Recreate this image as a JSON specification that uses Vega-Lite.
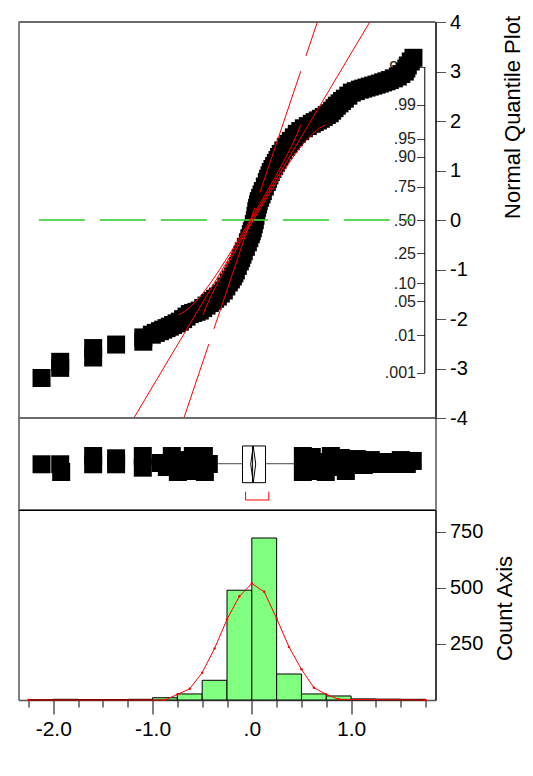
{
  "$schema": "https://vega.github.io/schema/vega-lite/v6.json",
  "background": "white",
  "padding": {"left": 16.5, "top": 11, "right": 0, "bottom": 0},
  "autosize": {"type": "pad"},
  "bounds": "flush",
  "spacing": 0,
  "config": {
    "font": "Liberation Sans",
    "view": {"stroke": "black", "strokeWidth": 1},
    "axis": {"labelFont": "Liberation Sans", "titleFont": "Liberation Sans", "labelColor": "black", "titleColor": "black", "titleFontWeight": "normal", "domainColor": "black", "tickColor": "#555", "grid": false}
  },
  "datasets": {
    "qq": [
      {"x":-2.118,"z":-3.192},{"x":-1.93,"z":-2.987},{"x":-1.93,"z":-2.865},{"x":-1.598,"z":-2.778},{"x":-1.598,"z":-2.587},{"x":-1.367,"z":-2.516},{"x":-1.093,"z":-2.459},{"x":-1.093,"z":-2.372},
      {"x":-1.007,"z":-2.317},{"x":-0.967,"z":-2.281},{"x":-0.926,"z":-2.246},{"x":-0.893,"z":-2.216},{"x":-0.859,"z":-2.185},{"x":-0.826,"z":-2.155},{"x":-0.793,"z":-2.121},{"x":-0.758,"z":-2.088},{"x":-0.725,"z":-2.054},{"x":-0.692,"z":-2.003},{"x":-0.658,"z":-1.952},{"x":-0.624,"z":-1.901},{"x":-0.591,"z":-1.877},{"x":-0.557,"z":-1.855},{"x":-0.524,"z":-1.83},{"x":-0.49,"z":-1.78},{"x":-0.456,"z":-1.729},{"x":-0.423,"z":-1.678},{"x":-0.396,"z":-1.634},{"x":-0.37,"z":-1.591},{"x":-0.342,"z":-1.546},{"x":-0.312,"z":-1.485},{"x":-0.282,"z":-1.424},{"x":-0.257,"z":-1.343},{"x":-0.232,"z":-1.262},{"x":-0.211,"z":-1.201},{"x":-0.191,"z":-1.14},{"x":-0.176,"z":-1.08},{"x":-0.161,"z":-1.018},{"x":-0.141,"z":-0.927},{"x":-0.121,"z":-0.836},{"x":-0.108,"z":-0.769},{"x":-0.094,"z":-0.7},{"x":-0.081,"z":-0.633},{"x":-0.06,"z":-0.542},{"x":-0.04,"z":-0.451},{"x":-0.025,"z":-0.369},{"x":-0.01,"z":-0.288},{"x":0.0,"z":-0.227},{"x":0.01,"z":-0.166},{"x":0.02,"z":-0.085},{"x":0.03,"z":-0.004},{"x":0.037,"z":0.087},{"x":0.045,"z":0.179},{"x":0.053,"z":0.246},{"x":0.062,"z":0.315},{"x":0.07,"z":0.381},{"x":0.084,"z":0.448},{"x":0.098,"z":0.517},{"x":0.111,"z":0.584},{"x":0.131,"z":0.676},{"x":0.151,"z":0.767},{"x":0.164,"z":0.834},{"x":0.178,"z":0.903},{"x":0.191,"z":0.97},{"x":0.208,"z":1.031},{"x":0.225,"z":1.092},{"x":0.242,"z":1.153},{"x":0.259,"z":1.213},{"x":0.275,"z":1.274},{"x":0.292,"z":1.335},{"x":0.317,"z":1.406},{"x":0.342,"z":1.477},{"x":0.368,"z":1.538},{"x":0.393,"z":1.599},{"x":0.423,"z":1.67},{"x":0.453,"z":1.741},{"x":0.488,"z":1.796},{"x":0.524,"z":1.853},{"x":0.564,"z":1.897},{"x":0.604,"z":1.944},{"x":0.634,"z":1.978},{"x":0.665,"z":2.011},{"x":0.695,"z":2.045},{"x":0.725,"z":2.082},{"x":0.755,"z":2.121},{"x":0.785,"z":2.157},{"x":0.809,"z":2.208},{"x":0.833,"z":2.259},{"x":0.856,"z":2.309},{"x":0.883,"z":2.356},{"x":0.909,"z":2.405},{"x":0.937,"z":2.451},{"x":0.972,"z":2.512},{"x":1.007,"z":2.573},{"x":1.047,"z":2.603},{"x":1.088,"z":2.634},{"x":1.121,"z":2.654},{"x":1.155,"z":2.675},{"x":1.188,"z":2.695},{"x":1.222,"z":2.715},{"x":1.256,"z":2.735},{"x":1.289,"z":2.756},{"x":1.322,"z":2.78},{"x":1.356,"z":2.802},{"x":1.39,"z":2.827},{"x":1.43,"z":2.861},{"x":1.47,"z":2.898},{"x":1.506,"z":2.948},{"x":1.541,"z":2.999},{"x":1.556,"z":3.06},{"x":1.571,"z":3.121},{"x":1.601,"z":3.202},{"x":1.628,"z":3.277}
    ],
    "ci": [
      {"side":"R","x":-0.493,"z":-1.92},{"side":"R","x":-0.459,"z":-1.75},{"side":"R","x":-0.402,"z":-1.5},{"side":"R","x":-0.339,"z":-1.25},{"side":"R","x":-0.272,"z":-1.0},{"side":"R","x":-0.203,"z":-0.75},{"side":"R","x":-0.131,"z":-0.5},{"side":"R","x":-0.058,"z":-0.25},{"side":"R","x":0.016,"z":0},{"side":"R","x":0.091,"z":0.25},{"side":"R","x":0.167,"z":0.5},{"side":"R","x":0.244,"z":0.75},{"side":"R","x":0.324,"z":1.0},{"side":"R","x":0.408,"z":1.25},{"side":"R","x":0.501,"z":1.5},{"side":"R","x":0.543,"z":1.6},{"side":"R","x":0.616,"z":1.75},{"side":"R","x":0.678,"z":1.85},{"side":"R","x":0.739,"z":1.92},
      {"side":"L","x":-0.739,"z":-1.92},{"side":"L","x":-0.678,"z":-1.85},{"side":"L","x":-0.616,"z":-1.75},{"side":"L","x":-0.543,"z":-1.6},{"side":"L","x":-0.501,"z":-1.5},{"side":"L","x":-0.408,"z":-1.25},{"side":"L","x":-0.324,"z":-1.0},{"side":"L","x":-0.244,"z":-0.75},{"side":"L","x":-0.167,"z":-0.5},{"side":"L","x":-0.091,"z":-0.25},{"side":"L","x":-0.016,"z":0},{"side":"L","x":0.058,"z":0.25},{"side":"L","x":0.131,"z":0.5},{"side":"L","x":0.203,"z":0.75},{"side":"L","x":0.272,"z":1.0},{"side":"L","x":0.339,"z":1.25},{"side":"L","x":0.402,"z":1.5},{"side":"L","x":0.459,"z":1.75},{"side":"L","x":0.493,"z":1.92}
    ],
    "box": [
      {"x":-2.118,"y":0.497},{"x":-1.93,"y":0.497},{"x":-1.92,"y":0.413},{"x":-1.598,"y":0.587},{"x":-1.598,"y":0.497},{"x":-1.367,"y":0.562},{"x":-1.367,"y":0.497},{"x":-1.098,"y":0.587},{"x":-1.098,"y":0.46},
      {"x":-0.916,"y":0.511},{"x":-0.856,"y":0.467},{"x":-0.806,"y":0.587},{"x":-0.775,"y":0.5},{"x":-0.745,"y":0.413},{"x":-0.715,"y":0.457},{"x":-0.695,"y":0.543},{"x":-0.645,"y":0.424},{"x":-0.624,"y":0.5},{"x":-0.594,"y":0.587},{"x":-0.554,"y":0.446},{"x":-0.514,"y":0.554},{"x":-0.483,"y":0.587},{"x":-0.473,"y":0.413},{"x":-0.433,"y":0.5},
      {"x":0.514,"y":0.587},{"x":0.514,"y":0.413},{"x":0.544,"y":0.5},{"x":0.604,"y":0.576},{"x":0.645,"y":0.424},{"x":0.695,"y":0.522},{"x":0.745,"y":0.413},{"x":0.796,"y":0.587},{"x":0.846,"y":0.467},{"x":0.896,"y":0.565},{"x":0.947,"y":0.424},{"x":0.997,"y":0.511},{"x":1.057,"y":0.554},{"x":1.128,"y":0.489},{"x":1.198,"y":0.543},{"x":1.269,"y":0.5},{"x":1.349,"y":0.522},{"x":1.43,"y":0.5},{"x":1.5,"y":0.543},{"x":1.561,"y":0.5},{"x":1.621,"y":0.533}
    ],
    "hist": [
      {"lo":-2.25,"hi":-2.0,"count":1},{"lo":-2.0,"hi":-1.75,"count":3},{"lo":-1.75,"hi":-1.5,"count":2},{"lo":-1.5,"hi":-1.25,"count":2},{"lo":-1.25,"hi":-1.0,"count":3},{"lo":-1.0,"hi":-0.75,"count":10},{"lo":-0.75,"hi":-0.5,"count":27},{"lo":-0.5,"hi":-0.25,"count":88},{"lo":-0.25,"hi":0.0,"count":490},{"lo":0.0,"hi":0.25,"count":723},{"lo":0.25,"hi":0.5,"count":116},{"lo":0.5,"hi":0.75,"count":27},{"lo":0.75,"hi":1.0,"count":18},{"lo":1.0,"hi":1.25,"count":5},{"lo":1.25,"hi":1.5,"count":4},{"lo":1.5,"hi":1.75,"count":3}
    ],
    "dens": [
      {"x":-2.25,"count":0},{"x":-0.875,"count":0},{"x":-0.75,"count":25},{"x":-0.625,"count":50},{"x":-0.5,"count":122},{"x":-0.375,"count":230},{"x":-0.25,"count":360},{"x":-0.125,"count":463},{"x":0.0,"count":520},{"x":0.125,"count":483},{"x":0.25,"count":364},{"x":0.375,"count":236},{"x":0.5,"count":137},{"x":0.625,"count":55},{"x":0.75,"count":25},{"x":0.875,"count":3},{"x":1.75,"count":0}
    ]
  },
  "vconcat": [
    {
      "width": 417,
      "height": 396,
      "resolve": {"axis": {"y": "independent"}},
      "layer": [
        {
          "data": {"values": [{"z": 4}]},
          "mark": {"type": "rule", "color": "#6b6b6b", "strokeWidth": 2},
          "encoding": {"y": {"field": "z", "type": "quantitative", "scale": {"domain": [-4, 4], "nice": false, "zero": false}, "axis": null}}
        },
        {
          "data": {"name": "qq"},
          "mark": {"type": "square", "size": 324, "color": "black", "filled": true, "opacity": 1},
          "encoding": {
            "x": {"field": "x", "type": "quantitative", "scale": {"domain": [-2.35, 1.85], "nice": false, "zero": false}, "axis": null},
            "y": {"field": "z", "type": "quantitative", "scale": {"domain": [-4, 4], "nice": false, "zero": false},
              "axis": {"orient": "right", "values": [-4,-3,-2,-1,0,1,2,3,4], "labelExpr": "(datum.value < 0 ? '-' : '') + abs(datum.value)", "tickSize": 10, "tickColor": "#555", "labelFontSize": 20, "labelPadding": 4, "labelFlush": false, "labelOverlap": false, "labelBound": false, "domainColor": "black", "title": "Normal Quantile Plot", "titleFontSize": 22, "titleAngle": 270, "titleAlign": "center", "titleBaseline": "middle", "titleX": 77, "titleY": 95}}
          }
        },
        {
          "data": {"values": [{"x": -2.145, "z": 0}, {"x": 1.616, "z": 0}]},
          "mark": {"type": "line", "color": "#40d040", "opacity": 0.85, "strokeWidth": 1.8, "strokeDash": [46, 15]},
          "encoding": {
            "x": {"field": "x", "type": "quantitative", "scale": {"domain": [-2.35, 1.85], "nice": false, "zero": false}, "axis": null},
            "y": {"field": "z", "type": "quantitative", "scale": {"domain": [-4, 4], "nice": false, "zero": false}, "axis": null}
          }
        },
        {
          "data": {"values": [{"x": -1.188, "z": -4}, {"x": 1.188, "z": 4}]},
          "mark": {"type": "line", "color": "red", "strokeWidth": 1},
          "encoding": {
            "x": {"field": "x", "type": "quantitative", "scale": {"domain": [-2.35, 1.85], "nice": false, "zero": false}, "axis": null},
            "y": {"field": "z", "type": "quantitative", "scale": {"domain": [-4, 4], "nice": false, "zero": false}, "axis": null}
          }
        },
        {
          "data": {"values": [{"x": -0.684, "z": -4}, {"x": 0.66, "z": 4}]},
          "mark": {"type": "line", "color": "red", "strokeWidth": 1, "strokeDash": [128, 16], "strokeDashOffset": 50},
          "encoding": {
            "x": {"field": "x", "type": "quantitative", "scale": {"domain": [-2.35, 1.85], "nice": false, "zero": false}, "axis": null},
            "y": {"field": "z", "type": "quantitative", "scale": {"domain": [-4, 4], "nice": false, "zero": false}, "axis": null}
          }
        },
        {
          "data": {"name": "ci"},
          "mark": {"type": "line", "color": "red", "strokeWidth": 1},
          "encoding": {
            "x": {"field": "x", "type": "quantitative", "scale": {"domain": [-2.35, 1.85], "nice": false, "zero": false}, "axis": null},
            "y": {"field": "z", "type": "quantitative", "scale": {"domain": [-4, 4], "nice": false, "zero": false}, "axis": null},
            "detail": {"field": "side", "type": "nominal"}
          }
        },
        {
          "data": {"values": [{}]},
          "mark": {"type": "rule", "color": "black", "strokeWidth": 1},
          "encoding": {
            "x": {"datum": 1.742, "type": "quantitative", "scale": {"domain": [-2.35, 1.85], "nice": false, "zero": false}},
            "y": {"datum": -3.09, "type": "quantitative", "scale": {"domain": [-4, 4], "nice": false, "zero": false},
              "axis": {"orient": "left", "offset": -406, "domain": false, "values": [-3.09, -2.326, -1.645, -1.2816, -0.674, 0, 0.674, 1.2816, 1.645, 2.326, 3.09], "labelExpr": "datum.value > 3 ? '.999' : datum.value > 2 ? '.99' : datum.value > 1.5 ? '.95' : datum.value > 1 ? '.90' : datum.value > 0.5 ? '.75' : datum.value > -0.5 ? '.50' : datum.value > -1 ? '.25' : datum.value > -1.5 ? '.10' : datum.value > -2 ? '.05' : datum.value > -3 ? '.01' : '.001'", "tickSize": 8, "tickColor": "#444", "labelFontSize": 16, "labelPadding": 1, "labelColor": "#222", "labelFlush": false, "labelOverlap": false, "labelBound": false, "title": null}},
            "y2": {"datum": 3.09}
          }
        }
      ]
    },
    {
      "width": 417,
      "height": 92,
      "layer": [
        {
          "data": {"values": [{"b": 0}, {"b": 1}]},
          "mark": {"type": "rule", "color": "#6b6b6b", "strokeWidth": 2},
          "encoding": {"y": {"field": "b", "type": "quantitative", "scale": {"domain": [0, 1], "nice": false, "zero": false}, "axis": null}}
        },
        {
          "data": {"values": [{"lo": -0.339, "hi": 0.426}]},
          "mark": {"type": "rule", "color": "#444", "strokeWidth": 1},
          "encoding": {
            "x": {"field": "lo", "type": "quantitative", "scale": {"domain": [-2.35, 1.85], "nice": false, "zero": false}, "axis": null},
            "x2": {"field": "hi"},
            "y": {"datum": 0.503, "type": "quantitative", "scale": {"domain": [0, 1], "nice": false, "zero": false}, "axis": null}
          }
        },
        {
          "data": {"values": [{"q1": -0.094, "q3": 0.138}]},
          "mark": {"type": "rect", "fill": "white", "stroke": "black", "strokeWidth": 1},
          "encoding": {
            "x": {"field": "q1", "type": "quantitative", "scale": {"domain": [-2.35, 1.85], "nice": false, "zero": false}, "axis": null},
            "x2": {"field": "q3"},
            "y": {"datum": 0.297, "type": "quantitative", "scale": {"domain": [0, 1], "nice": false, "zero": false}, "axis": null},
            "y2": {"datum": 0.696}
          }
        },
        {
          "data": {"values": [{"med": 0.008}]},
          "mark": {"type": "rule", "color": "black", "strokeWidth": 1},
          "encoding": {
            "x": {"field": "med", "type": "quantitative", "scale": {"domain": [-2.35, 1.85], "nice": false, "zero": false}, "axis": null},
            "y": {"datum": 0.297, "type": "quantitative", "scale": {"domain": [0, 1], "nice": false, "zero": false}, "axis": null},
            "y2": {"datum": 0.696}
          }
        },
        {
          "data": {"values": [{"v": 0.014, "lvl": 0.696, "o": 0}, {"v": -0.011, "lvl": 0.5, "o": 1}, {"v": 0.014, "lvl": 0.297, "o": 2}, {"v": 0.039, "lvl": 0.5, "o": 3}, {"v": 0.014, "lvl": 0.696, "o": 4}]},
          "mark": {"type": "line", "color": "black", "strokeWidth": 1},
          "encoding": {
            "x": {"field": "v", "type": "quantitative", "scale": {"domain": [-2.35, 1.85], "nice": false, "zero": false}, "axis": null},
            "y": {"field": "lvl", "type": "quantitative", "scale": {"domain": [0, 1], "nice": false, "zero": false}, "axis": null},
            "order": {"field": "o", "type": "quantitative"}
          }
        },
        {
          "data": {"values": [{"lo": -0.063, "hi": 0.171}]},
          "mark": {"type": "rule", "color": "red", "strokeWidth": 1},
          "encoding": {
            "x": {"field": "lo", "type": "quantitative", "scale": {"domain": [-2.35, 1.85], "nice": false, "zero": false}, "axis": null},
            "x2": {"field": "hi"},
            "y": {"datum": 0.109, "type": "quantitative", "scale": {"domain": [0, 1], "nice": false, "zero": false}, "axis": null}
          }
        },
        {
          "data": {"values": [{"end": -0.063}, {"end": 0.171}]},
          "mark": {"type": "rule", "color": "red", "strokeWidth": 1},
          "encoding": {
            "x": {"field": "end", "type": "quantitative", "scale": {"domain": [-2.35, 1.85], "nice": false, "zero": false}, "axis": null},
            "y": {"datum": 0.109, "type": "quantitative", "scale": {"domain": [0, 1], "nice": false, "zero": false}, "axis": null},
            "y2": {"datum": 0.199}
          }
        },
        {
          "data": {"name": "box"},
          "mark": {"type": "square", "size": 324, "color": "black", "filled": true, "opacity": 1},
          "encoding": {
            "x": {"field": "x", "type": "quantitative", "scale": {"domain": [-2.35, 1.85], "nice": false, "zero": false}, "axis": null},
            "y": {"field": "y", "type": "quantitative", "scale": {"domain": [0, 1], "nice": false, "zero": false}, "axis": null}
          }
        }
      ]
    },
    {
      "width": 417,
      "height": 190,
      "resolve": {"axis": {"x": "independent", "y": "independent"}},
      "layer": [
        {
          "data": {"name": "hist"},
          "mark": {"type": "rect", "fill": "#80ff80", "stroke": "black", "strokeWidth": 1},
          "encoding": {
            "x": {"field": "lo", "type": "quantitative", "scale": {"domain": [-2.35, 1.85], "nice": false, "zero": false},
              "axis": {"orient": "bottom", "values": [-2.25,-2,-1.75,-1.5,-1.25,-1,-0.75,-0.5,-0.25,0,0.25,0.5,0.75,1,1.25,1.5,1.75], "tickSize": {"condition": {"test": "datum.value % 1 === 0", "value": 14}, "value": 7}, "tickColor": "black", "tickWidth": 1, "domainColor": "#555", "domainWidth": 1.5, "labelExpr": "datum.value % 1 !== 0 ? '' : datum.value === 0 ? '.0' : (datum.value < 0 ? '-' : '') + format(abs(datum.value), '.1f')", "labelFontSize": 21, "labelPadding": 4, "labelFlush": false, "labelOverlap": false, "labelBound": false, "title": null}},
            "x2": {"field": "hi"},
            "y": {"field": "count", "type": "quantitative", "scale": {"domain": [0, 848], "nice": false, "zero": true},
              "axis": {"orient": "right", "values": [250, 500, 750], "tickSize": 10, "tickColor": "#555", "labelFontSize": 20, "labelPadding": 4, "labelFlush": false, "labelOverlap": false, "domainColor": "black", "title": "Count Axis", "titleFontSize": 22, "titleAngle": 270, "titleAlign": "center", "titleBaseline": "middle", "titleX": 69, "titleY": 98}},
            "y2": {"datum": 0}
          }
        },
        {
          "data": {"name": "dens"},
          "mark": {"type": "line", "color": "red", "strokeWidth": 1, "point": {"filled": true, "size": 6, "color": "red"}},
          "encoding": {
            "x": {"field": "x", "type": "quantitative", "scale": {"domain": [-2.35, 1.85], "nice": false, "zero": false}, "axis": null},
            "y": {"field": "count", "type": "quantitative", "scale": {"domain": [0, 848], "nice": false, "zero": true}, "axis": null}
          }
        }
      ]
    }
  ]
}
